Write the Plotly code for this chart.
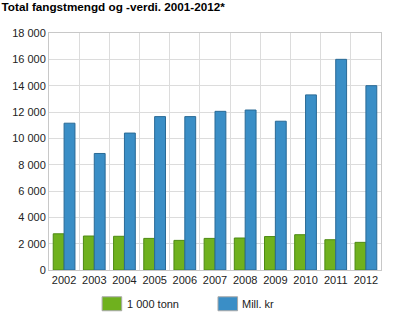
import plotly.graph_objects as go

years = ["2002", "2003", "2004", "2005", "2006", "2007", "2008", "2009", "2010", "2011", "2012"]
tonn = [2750, 2580, 2560, 2400, 2250, 2400, 2430, 2540, 2680, 2300, 2100]
mill_kr = [11150, 8850, 10400, 11650, 11650, 12050, 12150, 11300, 13300, 16000, 14000]
y_ticks = [0, 2000, 4000, 6000, 8000, 10000, 12000, 14000, 16000, 18000]
y_labels = ["0", "2 000", "4 000", "6 000", "8 000", "10 000", "12 000", "14 000", "16 000", "18 000"]

series_names = ["1 000 tonn", "Mill. kr"]
fill_colors = ["#6fb11e", "#3a8ec6"]
line_colors = ["#4d8a12", "#2a6a96"]

fig = go.Figure()
fig.add_trace(go.Bar(x=years, y=tonn, name=series_names[0],
                     marker=dict(color=fill_colors[0], line=dict(color=line_colors[0], width=1))))
fig.add_trace(go.Bar(x=years, y=mill_kr, name=series_names[1],
                     marker=dict(color=fill_colors[1], line=dict(color=line_colors[1], width=1))))

# custom legend (large squares like the reference)
legend_x = [(0.160, 0.219, 0.230), (0.509, 0.568, 0.575)]
for (x0, x1, tx), name, fc in zip(legend_x, series_names, fill_colors):
    fig.add_shape(type="rect", xref="paper", yref="paper", x0=x0, x1=x1, y0=-0.172, y1=-0.113,
                  fillcolor=fc, line=dict(color="#a8a8a8", width=1))
    fig.add_annotation(xref="paper", yref="paper", x=tx, y=-0.142, text=name, showarrow=False,
                       xanchor="left", yanchor="middle", font=dict(size=11, color="#222"))

fig.update_layout(
    width=400, height=320,
    margin=dict(l=43, r=19, t=33, b=50),
    paper_bgcolor="white", plot_bgcolor="white",
    barmode="group", bargap=0.28, bargroupgap=0,
    font=dict(family="Liberation Sans, Arial, sans-serif", size=11, color="#222"),
    title=dict(text="<b>Total fangstmengd og -verdi. 2001-2012*</b>", x=0.004, xanchor="left",
               y=0.99, yanchor="top", font=dict(size=11.7, color="#000")),
    showlegend=False,
    xaxis=dict(type="category", tickson="boundaries", showgrid=True, gridcolor="#dcdcdc",
               showline=True, linecolor="#c8c8c8", mirror=True, ticks="", tickangle=0,
               tickfont=dict(size=11)),
    yaxis=dict(range=[0, 18000], tickvals=y_ticks, ticktext=y_labels, showgrid=True,
               gridcolor="#dcdcdc", showline=True, linecolor="#c8c8c8", mirror=True,
               ticks="", zeroline=False, tickfont=dict(size=11)),
)

fig.write_html("out.html", config={"displayModeBar": False},
               post_script="document.body.style.margin='0';")
